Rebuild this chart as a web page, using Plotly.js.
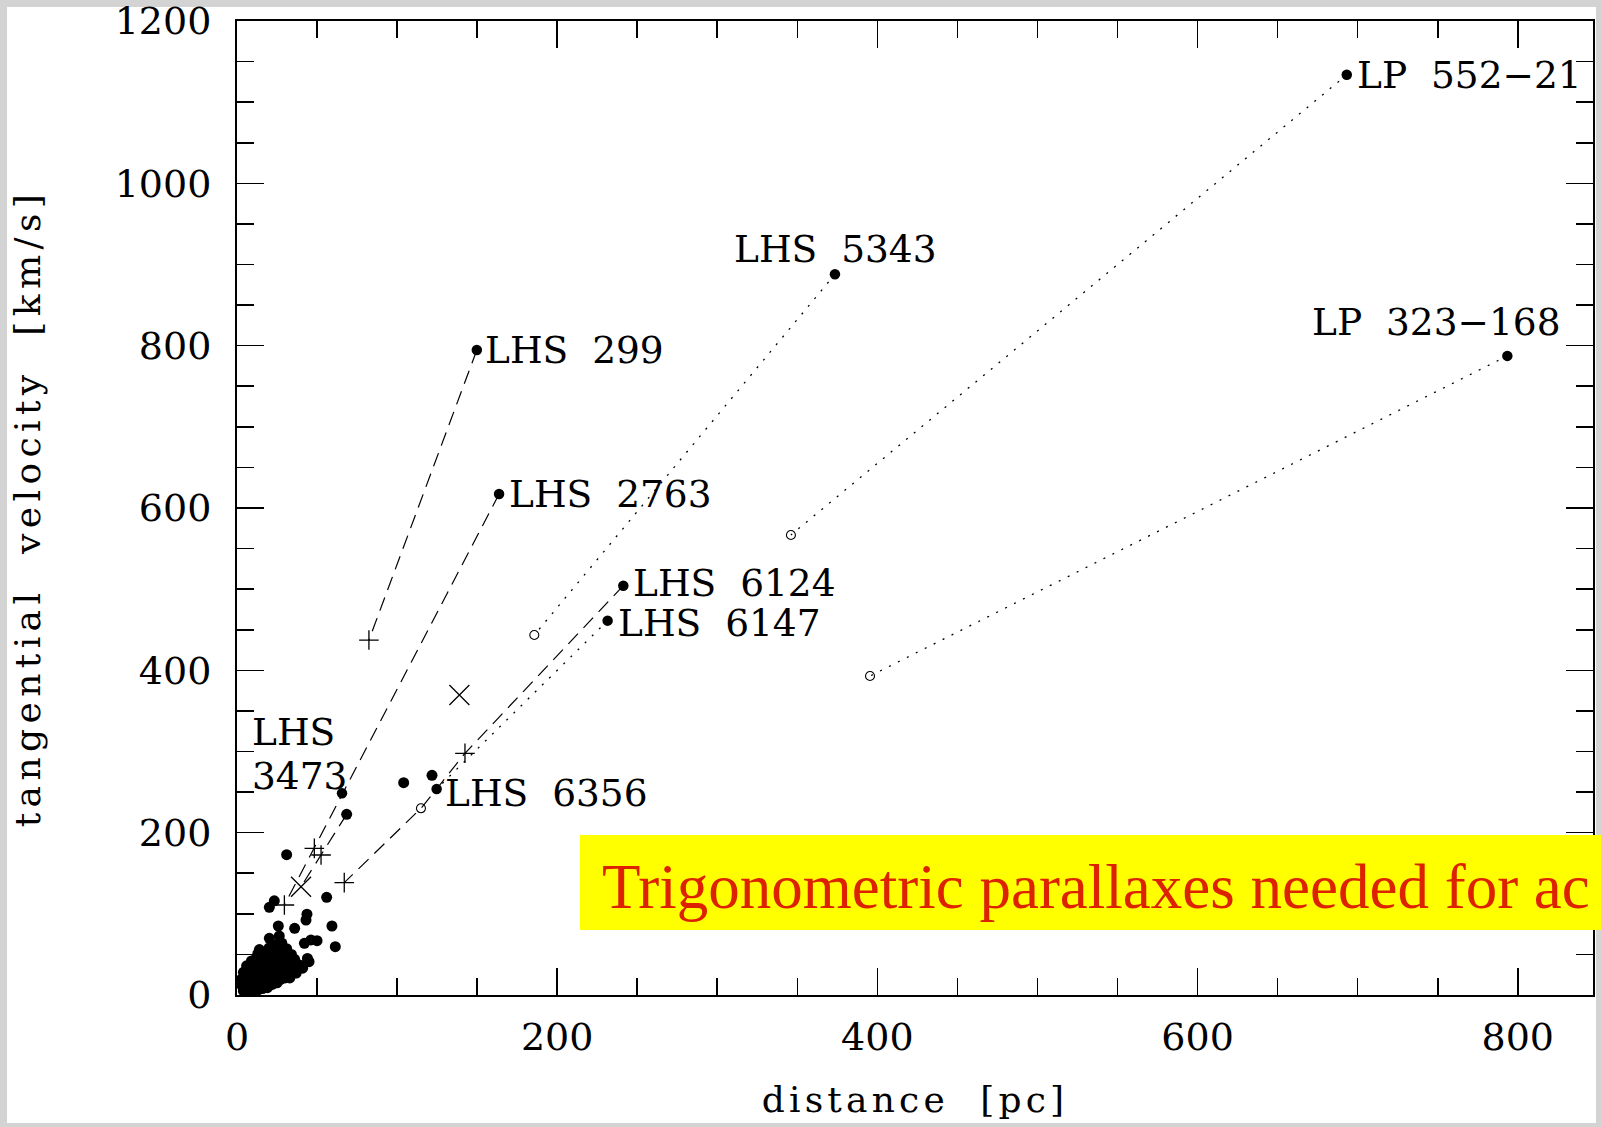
<!DOCTYPE html>
<html><head><meta charset="utf-8">
<script src="https://cdn.plot.ly/plotly-3.0.1.min.js"></script>
<style>
html,body{margin:0;padding:0;background:#d3d3d3;overflow:hidden;}
#chart{width:1601px;height:1127px;}
.xtitle{letter-spacing:4.2px;}
.ytitle{letter-spacing:5.4px;}
</style></head><body><div id="chart"></div>
<script>
// ---- data (distance in pc, tangential velocity in km/s) ----
const clusterDist = [4,7,10,13,16,19, 3,6,9,12,15,18,22,25, 3,6,9,12,15,18,21,24,27,30,33,
  4,7,10,13,16,19,22,25,28,31,34,37, 6,9,12,15,18,21,24,27,30,33,36,39,41,
  9,12,15,18,21,24,27,30,33,36,44,45, 13,16,19,22,25,28,31,34, 14,20,26,31,24,28,
  20.2,26.4,25.8,36.0,42.1,46.2,50.0,61.4,59.3,43.7,43.1,56.0,20.2,23.3,31.0,104.1,121.8,68.5];
const clusterVel = [5,4,5,6,8,9, 12,11,12,13,12,14,13,15, 20,19,21,20,22,20,22,21,19,21,21,
  28,27,29,28,30,27,29,28,30,27,29,27, 36,35,37,34,36,38,35,37,34,36,38,37,33,
  42,45,43,46,43,44,46,43,45,44,45,41, 51,53,50,52,54,51,53,50, 56,58,61,57,62,64,
  69.8,72.7,85.0,82.2,63.7,67.8,66.9,59.5,85.0,99.6,92.4,120.3,108.0,116.0,172.9,261.6,270.7,222.6];

const starNames = ['LHS\u00a0\u00a0299','LHS\u00a0\u00a02763','LHS\u00a0\u00a05343','LP\u00a0\u00a0552\u221221',
  'LP\u00a0\u00a0323\u2212168','LHS\u00a0\u00a06124','LHS\u00a0\u00a06147','LHS\u00a0\u00a06356','LHS<br>3473'];
const starDist = [149.8,163.7,373.5,693.2,793.5,241.3,231.5,124.7,65.6];
const starVel  = [794.6,617.2,887.9,1133.7,787.4,504.3,461.2,253.8,248.5];

const plusDist = [82.4,48.3,52.5,29.6,142.4,67.0];
const plusVel  = [437.3,180.7,172.5,110.9,297.8,138.4];
const crossDist = [138.9,40.0];
const crossVel  = [369.6,133.4];
const openDist = [185.7,346.0,395.4,114.9];
const openVel  = [443.5,566.8,393.0,230.0];

// connections (dashed): LHS 299, LHS 2763, LHS 3473 pair, LHS 6124/6356
const dashDist = [149.8,82.4,null, 163.7,48.3,29.6,null, 68.5,52.5,40.0,null, 241.3,142.4,124.7,114.9,67.0];
const dashVel  = [794.6,437.3,null, 617.2,180.7,110.9,null, 222.6,172.5,133.4,null, 504.3,297.8,253.8,230.0,138.4];
// connections (dotted): LHS 5343, LP 552-21, LP 323-168, LHS 6147
const dotDist = [373.5,185.7,null, 693.2,346.0,null, 793.5,395.4,null, 231.5,124.7];
const dotVel  = [887.9,443.5,null, 1133.7,566.8,null, 787.4,393.0,null, 461.2,253.8];

const xTicks = [0,200,400,600,800];
const yTicks = [0,200,400,600,800,1000,1200];
const noteText = 'Trigonometric parallaxes needed for ac';

// ---- drawing ----
const FONT = 'DejaVu Serif';
const traces = [
  {x: dashDist, y: dashVel, mode:'lines', line:{color:'#000', width:1.2, dash:'14px,8px'}, connectgaps:false, hoverinfo:'skip'},
  {x: dotDist, y: dotVel, mode:'lines', line:{color:'#000', width:1.3, dash:'2px,8px'}, connectgaps:false, hoverinfo:'skip'},
  {x: clusterDist, y: clusterVel, mode:'markers', marker:{symbol:'circle', size:11, color:'#000', line:{width:0}}},
  {x: starDist, y: starVel, mode:'markers', marker:{symbol:'circle', size:10.5, color:'#000', line:{width:0}}},
  {x: openDist, y: openVel, mode:'markers', marker:{symbol:'circle-open', size:9, color:'#000', line:{width:1.1, color:'#000'}}},
  {x: plusDist, y: plusVel, mode:'markers', marker:{symbol:'cross-thin-open', size:14, color:'#000', line:{width:1.3, color:'#000'}}},
  {x: crossDist, y: crossVel, mode:'markers', marker:{symbol:'x-thin-open', size:20, color:'#000', line:{width:1.3, color:'#000'}}}
];

const lblFont = {family: FONT, size: 37.5, color:'#000'};
// label placement (pixel offsets from the star marker)
const lblStyle = [
  {xanchor:'left', xshift:7, yshift:0},
  {xanchor:'left', xshift:9, yshift:0},
  {xanchor:'center', xshift:1, yshift:25},
  {xanchor:'left', xshift:9, yshift:0},
  {xanchor:'right', xshift:55, yshift:34},
  {xanchor:'left', xshift:9, yshift:3},
  {xanchor:'left', xshift:9, yshift:-2},
  {xanchor:'left', xshift:7, yshift:-4},
  {xanchor:'left', xshift:-91, yshift:37}
];
const annotations = starNames.map((t,i)=>({
  x: starDist[i], y: starVel[i], xref:'x', yref:'y', text:t, showarrow:false, align:'left',
  xanchor: lblStyle[i].xanchor, yanchor:'middle', xshift: lblStyle[i].xshift, yshift: lblStyle[i].yshift,
  font: lblFont, borderpad:0
}));
annotations.push({
  x: (601-237)/1356, y: (995-887)/974, xref:'paper', yref:'paper', xanchor:'left', yanchor:'middle',
  text: noteText, showarrow:false, borderpad:0,
  font:{family:'Liberation Serif', size:63, color:'#dd2200'}
});

const axisCommon = {
  ticks:'inside', ticklen:27, tickwidth:1.6, tickcolor:'#000',
  showline:true, linewidth:2, linecolor:'#000', mirror:'allticks',
  showgrid:false, zeroline:false, tickfont:{family:FONT, size:38, color:'#000'},
  tickmode:'array', ticklabeloverflow:'allow',
  minor:{dtick:50, tick0:0, ticks:'inside', ticklen:17, tickwidth:1.6, tickcolor:'#000', showgrid:false},
  fixedrange:true
};

const layout = {
  width:1601, height:1127,
  margin:{l:237, r:8, t:21, b:132},
  paper_bgcolor:'#d3d3d3', plot_bgcolor:'rgba(0,0,0,0)',
  showlegend:false,
  xaxis: Object.assign({}, axisCommon, {range:[0,847], tickvals:xTicks, ticktext:xTicks.map(String), ticklabelstandoff:7,
    title:{text:'distance\u00a0\u00a0[pc]', font:{family:FONT, size:36, color:'#000'}, standoff:29}}),
  yaxis: Object.assign({}, axisCommon, {range:[0,1200], tickvals:yTicks, ticktext:yTicks.map(String), ticklabelstandoff:16,
    title:{text:'tangential\u00a0\u00a0velocity\u00a0\u00a0[km/s]', font:{family:FONT, size:36, color:'#000'}, standoff:63}}),
  shapes:[
    {type:'rect', xref:'paper', yref:'paper', x0:(7-237)/1356, x1:(1596-237)/1356, y0:(995-1123)/974, y1:(995-7)/974,
     fillcolor:'#ffffff', line:{width:0}, layer:'below'},
    {type:'rect', xref:'paper', yref:'paper', x0:(580-237)/1356, x1:(1620-237)/1356, y0:(995-930)/974, y1:(995-835)/974,
     fillcolor:'#ffff00', line:{width:0}, layer:'above'}
  ],
  annotations: annotations
};

Plotly.newPlot('chart', traces, layout, {staticPlot:true, displayModeBar:false}).then(function(){
  // tighten the two-line "LHS / 3473" label (kept just wide enough that the lines do not collide)
  document.querySelectorAll('.annotation-text').forEach(function(t){
    var lines = t.querySelectorAll('tspan.line');
    if (lines.length === 2) lines[1].setAttribute('dy', '1.17em');
  });
});
</script></body></html>
